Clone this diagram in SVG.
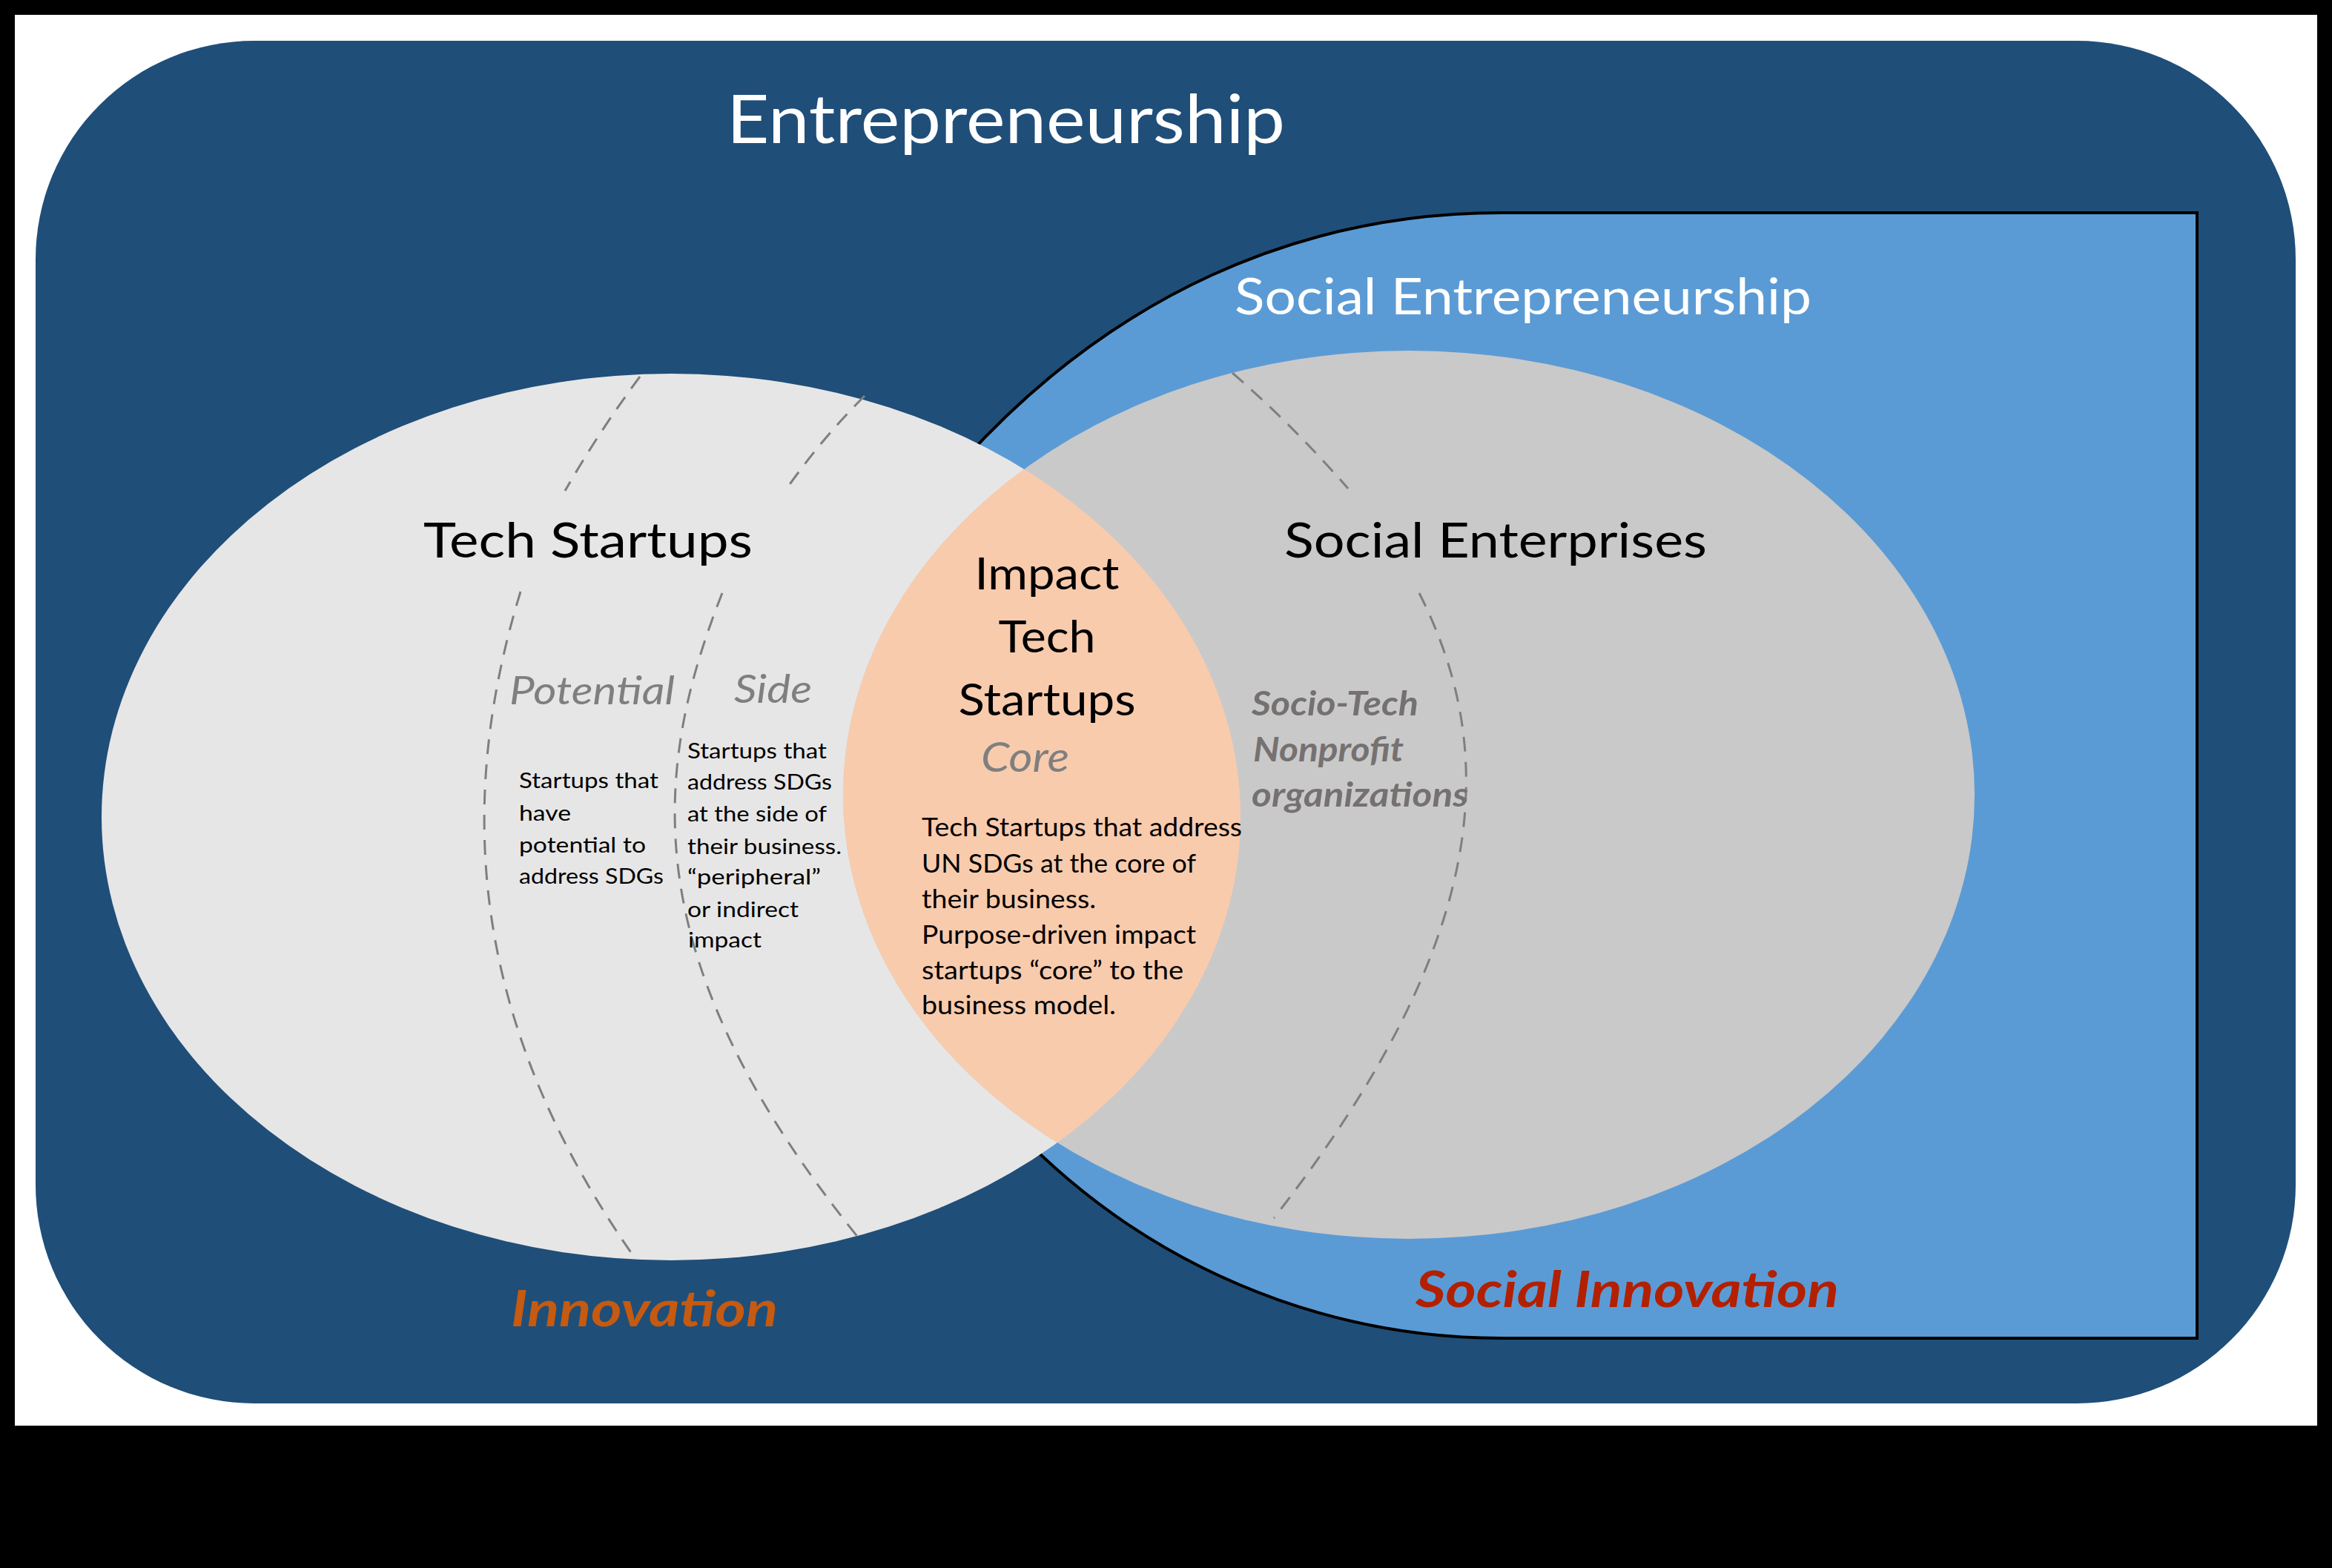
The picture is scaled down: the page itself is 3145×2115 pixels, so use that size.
<svg xmlns="http://www.w3.org/2000/svg" width="3145" height="2115" viewBox="0 0 3145 2115">
<defs>
<style>
.f{font-family:Lato,"Open Sans","Liberation Sans",sans-serif;}
.dash{fill:none;stroke:#7F7F7F;stroke-width:3;stroke-dasharray:20 14;}
.hd{font-size:66px;fill:#000;}
.sm{font-size:28px;fill:#000;}
.cd{font-size:35px;fill:#000;}
.lbl{font-style:italic;fill:#7F7F7F;}
.st{font-style:italic;font-weight:bold;font-size:46px;fill:#767171;}
</style>
<clipPath id="clipTech"><ellipse cx="905" cy="1102" rx="768" ry="598"/></clipPath>
</defs>
<rect x="0" y="0" width="3145" height="2115" fill="#000"/>
<rect x="20" y="20" width="3105" height="1903" fill="#FFFFFF"/>

<g id="entrepreneurship">
<rect x="48" y="55" width="3048" height="1838" rx="295" ry="295" fill="#1F4E79"/>
<text class="f" x="980" y="193" font-size="92" fill="#FFFFFF" textLength="753" lengthAdjust="spacingAndGlyphs">Entrepreneurship</text>
</g>

<g id="social-entrepreneurship">
<path d="M 2963 287 L 2025 287 C 1750 287 1500 400 1300 620 L 1133 1050 A 905 905 0 0 0 2025 1805 L 2963 1805 Z" fill="#5B9BD5" stroke="#000" stroke-width="4"/>
<text class="f" x="1665" y="424" font-size="68" fill="#FFFFFF" textLength="778" lengthAdjust="spacingAndGlyphs">Social Entrepreneurship</text>
<text class="f" x="1909" y="1763" font-size="67" font-weight="bold" font-style="italic" fill="#B22000" textLength="571" lengthAdjust="spacingAndGlyphs">Social Innovation</text>
</g>

<g id="tech-startups">
<ellipse cx="905" cy="1102" rx="768" ry="598" fill="#E7E6E6"/>
</g>

<g id="social-enterprises">
<ellipse cx="1900" cy="1072" rx="763" ry="599" fill="#C9C9C9"/>
</g>

<g id="impact-tech-startups">
<ellipse cx="1900" cy="1072" rx="763" ry="599" fill="#F8CBAD" clip-path="url(#clipTech)"/>
</g>

<g id="dividers">
<path class="dash" d="M 863 508 Q 808 582 762 662"/>
<path class="dash" d="M 702 798 C 625 1050 615 1350 852 1691"/>
<path class="dash" d="M 1166 534 Q 1108 592 1061 659"/>
<path class="dash" d="M 974 800 C 875 1050 860 1300 1158 1670"/>
<path class="dash" d="M 1662 503 Q 1745 575 1818 659"/>
<path class="dash" d="M 1914 800 C 2015 1000 2025 1250 1718 1643"/>
</g>

<g id="tech-startups-text">
<text class="f hd" x="571" y="752" textLength="444" lengthAdjust="spacingAndGlyphs">Tech Startups</text>
<text class="f lbl" x="687" y="950" font-size="52" textLength="223" lengthAdjust="spacingAndGlyphs">Potential</text>
<text class="f lbl" x="990" y="948" font-size="52" textLength="105" lengthAdjust="spacingAndGlyphs">Side</text>
<text class="f sm" x="700" y="1063" textLength="188" lengthAdjust="spacingAndGlyphs">Startups that</text>
<text class="f sm" x="700" y="1107" textLength="70" lengthAdjust="spacingAndGlyphs">have</text>
<text class="f sm" x="700" y="1150" textLength="171" lengthAdjust="spacingAndGlyphs">potential to</text>
<text class="f sm" x="700" y="1192" textLength="195" lengthAdjust="spacingAndGlyphs">address SDGs</text>
<text class="f sm" x="927" y="1023" textLength="188" lengthAdjust="spacingAndGlyphs">Startups that</text>
<text class="f sm" x="927" y="1065" textLength="195" lengthAdjust="spacingAndGlyphs">address SDGs</text>
<text class="f sm" x="927" y="1108" textLength="188" lengthAdjust="spacingAndGlyphs">at the side of</text>
<text class="f sm" x="927" y="1152" textLength="208" lengthAdjust="spacingAndGlyphs">their business.</text>
<text class="f sm" x="927" y="1193" textLength="180" lengthAdjust="spacingAndGlyphs">“peripheral”</text>
<text class="f sm" x="927" y="1237" textLength="150" lengthAdjust="spacingAndGlyphs">or indirect</text>
<text class="f sm" x="928" y="1278" textLength="99" lengthAdjust="spacingAndGlyphs">impact</text>
<text class="f" x="689" y="1789" font-size="66" font-weight="bold" font-style="italic" fill="#C55A11" textLength="360" lengthAdjust="spacingAndGlyphs">Innovation</text>
</g>

<g id="impact-tech-startups-text">
<text class="f" x="1412" y="795" font-size="60" text-anchor="middle" textLength="195" lengthAdjust="spacingAndGlyphs">Impact</text>
<text class="f" x="1412" y="880" font-size="60" text-anchor="middle" textLength="131" lengthAdjust="spacingAndGlyphs">Tech</text>
<text class="f" x="1412" y="965" font-size="60" text-anchor="middle" textLength="239" lengthAdjust="spacingAndGlyphs">Startups</text>
<text class="f lbl" x="1323" y="1041" font-size="56" textLength="119" lengthAdjust="spacingAndGlyphs">Core</text>
<text class="f cd" x="1243" y="1128" textLength="432" lengthAdjust="spacingAndGlyphs">Tech Startups that address</text>
<text class="f cd" x="1243" y="1177" textLength="370" lengthAdjust="spacingAndGlyphs">UN SDGs at the core of</text>
<text class="f cd" x="1243" y="1225" textLength="235" lengthAdjust="spacingAndGlyphs">their business.</text>
<text class="f cd" x="1243" y="1273" textLength="370" lengthAdjust="spacingAndGlyphs">Purpose-driven impact</text>
<text class="f cd" x="1243" y="1321" textLength="353" lengthAdjust="spacingAndGlyphs">startups “core” to the</text>
<text class="f cd" x="1243" y="1368" textLength="262" lengthAdjust="spacingAndGlyphs">business model.</text>
</g>

<g id="social-enterprises-text">
<text class="f hd" x="1732" y="752" textLength="570" lengthAdjust="spacingAndGlyphs">Social Enterprises</text>
<text class="f st" x="1688" y="965" textLength="225" lengthAdjust="spacingAndGlyphs">Socio-Tech</text>
<text class="f st" x="1690" y="1027" textLength="203" lengthAdjust="spacingAndGlyphs">Nonprofit</text>
<text class="f st" x="1688" y="1088" textLength="292" lengthAdjust="spacingAndGlyphs">organizations</text>
</g>
</svg>
